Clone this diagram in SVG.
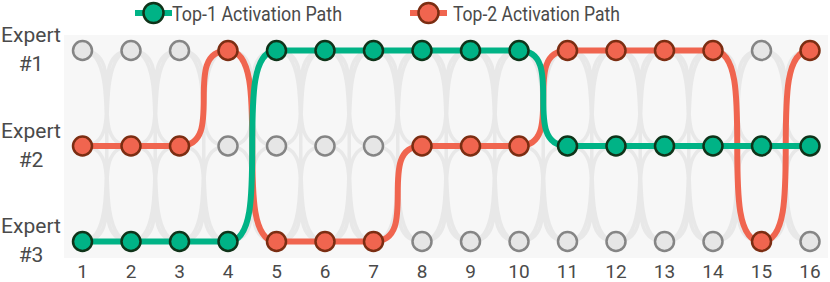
<svg xmlns="http://www.w3.org/2000/svg" width="830" height="282" viewBox="0 0 830 282">
<style>
.lbl{font-family:Roboto,"Liberation Sans",sans-serif;font-size:20px;fill:#4a4a4a}
.big{font-size:21px}
.leg{font-size:21px}
.ax{font-size:19px}
.mid{text-anchor:middle}
.grid{fill:none;stroke:#e8e8e8;stroke-width:3.5}
.p1{fill:none;stroke:#00b386;stroke-width:6}
.p2{fill:none;stroke:#f0654f;stroke-width:6}
.n0{fill:#e6e6e6;stroke:#858585;stroke-width:2.5}
.n1{fill:#00b386;stroke:#0f3319;stroke-width:2.5}
.n2{fill:#f0654f;stroke:#7b2d12;stroke-width:2.5}
</style>
<rect x="64" y="35" width="764" height="223" fill="#f7f7f7"/>
<g id="legend">
<line x1="135" y1="13" x2="172" y2="13" class="p1"/>
<circle cx="153.5" cy="13" r="10" class="n1" stroke-width="3"/>
<text x="172" y="21" class="lbl leg" textLength="170" lengthAdjust="spacingAndGlyphs">Top-1 Activation Path</text>
<line x1="410" y1="13" x2="447" y2="13" class="p2"/>
<circle cx="428.5" cy="13" r="10" class="n2" stroke-width="3"/>
<text x="453" y="21" class="lbl leg" textLength="167" lengthAdjust="spacingAndGlyphs">Top-2 Activation Path</text>
</g>
<g id="row-labels">
<text x="31" y="42" class="lbl big mid">Expert</text>
<text x="31" y="71" class="lbl big mid">#1</text>
<text x="31" y="137.5" class="lbl big mid">Expert</text>
<text x="31" y="166.5" class="lbl big mid">#2</text>
<text x="31" y="233" class="lbl big mid">Expert</text>
<text x="31" y="262" class="lbl big mid">#3</text>
</g>
<g id="axis-labels">
<text x="82.5" y="278" class="lbl ax mid">1</text>
<text x="131" y="278" class="lbl ax mid">2</text>
<text x="179.5" y="278" class="lbl ax mid">3</text>
<text x="228" y="278" class="lbl ax mid">4</text>
<text x="276.5" y="278" class="lbl ax mid">5</text>
<text x="325" y="278" class="lbl ax mid">6</text>
<text x="373.5" y="278" class="lbl ax mid">7</text>
<text x="422" y="278" class="lbl ax mid">8</text>
<text x="470.5" y="278" class="lbl ax mid">9</text>
<text x="519" y="278" class="lbl ax mid">10</text>
<text x="567.5" y="278" class="lbl ax mid">11</text>
<text x="616" y="278" class="lbl ax mid">12</text>
<text x="664.5" y="278" class="lbl ax mid">13</text>
<text x="713" y="278" class="lbl ax mid">14</text>
<text x="761.5" y="278" class="lbl ax mid">15</text>
<text x="810" y="278" class="lbl ax mid">16</text>
</g>
<g id="connectors">
<path class="grid" d="M82.5 50.5C131 50.5 82.5 146 131 146M82.5 146C131 146 82.5 50.5 131 50.5M82.5 146C131 146 82.5 241.5 131 241.5M82.5 241.5C131 241.5 82.5 146 131 146M82.5 50.5C131 50.5 82.5 241.5 131 241.5M82.5 241.5C131 241.5 82.5 50.5 131 50.5
M131 50.5C179.5 50.5 131 146 179.5 146M131 146C179.5 146 131 50.5 179.5 50.5M131 146C179.5 146 131 241.5 179.5 241.5M131 241.5C179.5 241.5 131 146 179.5 146M131 50.5C179.5 50.5 131 241.5 179.5 241.5M131 241.5C179.5 241.5 131 50.5 179.5 50.5
M179.5 50.5C228 50.5 179.5 146 228 146M179.5 146C228 146 179.5 50.5 228 50.5M179.5 146C228 146 179.5 241.5 228 241.5M179.5 241.5C228 241.5 179.5 146 228 146M179.5 50.5C228 50.5 179.5 241.5 228 241.5M179.5 241.5C228 241.5 179.5 50.5 228 50.5
M228 50.5C276.5 50.5 228 146 276.5 146M228 146C276.5 146 228 50.5 276.5 50.5M228 146C276.5 146 228 241.5 276.5 241.5M228 241.5C276.5 241.5 228 146 276.5 146M228 50.5C276.5 50.5 228 241.5 276.5 241.5M228 241.5C276.5 241.5 228 50.5 276.5 50.5
M276.5 50.5C325 50.5 276.5 146 325 146M276.5 146C325 146 276.5 50.5 325 50.5M276.5 146C325 146 276.5 241.5 325 241.5M276.5 241.5C325 241.5 276.5 146 325 146M276.5 50.5C325 50.5 276.5 241.5 325 241.5M276.5 241.5C325 241.5 276.5 50.5 325 50.5
M325 50.5C373.5 50.5 325 146 373.5 146M325 146C373.5 146 325 50.5 373.5 50.5M325 146C373.5 146 325 241.5 373.5 241.5M325 241.5C373.5 241.5 325 146 373.5 146M325 50.5C373.5 50.5 325 241.5 373.5 241.5M325 241.5C373.5 241.5 325 50.5 373.5 50.5
M373.5 50.5C422 50.5 373.5 146 422 146M373.5 146C422 146 373.5 50.5 422 50.5M373.5 146C422 146 373.5 241.5 422 241.5M373.5 241.5C422 241.5 373.5 146 422 146M373.5 50.5C422 50.5 373.5 241.5 422 241.5M373.5 241.5C422 241.5 373.5 50.5 422 50.5
M422 50.5C470.5 50.5 422 146 470.5 146M422 146C470.5 146 422 50.5 470.5 50.5M422 146C470.5 146 422 241.5 470.5 241.5M422 241.5C470.5 241.5 422 146 470.5 146M422 50.5C470.5 50.5 422 241.5 470.5 241.5M422 241.5C470.5 241.5 422 50.5 470.5 50.5
M470.5 50.5C519 50.5 470.5 146 519 146M470.5 146C519 146 470.5 50.5 519 50.5M470.5 146C519 146 470.5 241.5 519 241.5M470.5 241.5C519 241.5 470.5 146 519 146M470.5 50.5C519 50.5 470.5 241.5 519 241.5M470.5 241.5C519 241.5 470.5 50.5 519 50.5
M519 50.5C567.5 50.5 519 146 567.5 146M519 146C567.5 146 519 50.5 567.5 50.5M519 146C567.5 146 519 241.5 567.5 241.5M519 241.5C567.5 241.5 519 146 567.5 146M519 50.5C567.5 50.5 519 241.5 567.5 241.5M519 241.5C567.5 241.5 519 50.5 567.5 50.5
M567.5 50.5C616 50.5 567.5 146 616 146M567.5 146C616 146 567.5 50.5 616 50.5M567.5 146C616 146 567.5 241.5 616 241.5M567.5 241.5C616 241.5 567.5 146 616 146M567.5 50.5C616 50.5 567.5 241.5 616 241.5M567.5 241.5C616 241.5 567.5 50.5 616 50.5
M616 50.5C664.5 50.5 616 146 664.5 146M616 146C664.5 146 616 50.5 664.5 50.5M616 146C664.5 146 616 241.5 664.5 241.5M616 241.5C664.5 241.5 616 146 664.5 146M616 50.5C664.5 50.5 616 241.5 664.5 241.5M616 241.5C664.5 241.5 616 50.5 664.5 50.5
M664.5 50.5C713 50.5 664.5 146 713 146M664.5 146C713 146 664.5 50.5 713 50.5M664.5 146C713 146 664.5 241.5 713 241.5M664.5 241.5C713 241.5 664.5 146 713 146M664.5 50.5C713 50.5 664.5 241.5 713 241.5M664.5 241.5C713 241.5 664.5 50.5 713 50.5
M713 50.5C761.5 50.5 713 146 761.5 146M713 146C761.5 146 713 50.5 761.5 50.5M713 146C761.5 146 713 241.5 761.5 241.5M713 241.5C761.5 241.5 713 146 761.5 146M713 50.5C761.5 50.5 713 241.5 761.5 241.5M713 241.5C761.5 241.5 713 50.5 761.5 50.5
M761.5 50.5C810 50.5 761.5 146 810 146M761.5 146C810 146 761.5 50.5 810 50.5M761.5 146C810 146 761.5 241.5 810 241.5M761.5 241.5C810 241.5 761.5 146 810 146M761.5 50.5C810 50.5 761.5 241.5 810 241.5M761.5 241.5C810 241.5 761.5 50.5 810 50.5"/>
<path id="top2-path" class="p2" d="M82.5 146H179.5C228 146 179.5 50.5 228 50.5C276.5 50.5 228 241.5 276.5 241.5H373.5C422 241.5 373.5 146 422 146H519C567.5 146 519 50.5 567.5 50.5H713C761.5 50.5 713 241.5 761.5 241.5C810 241.5 761.5 50.5 810 50.5"/>
<path id="top1-path" class="p1" d="M82.5 241.5H228C276.5 241.5 228 50.5 276.5 50.5H519C567.5 50.5 519 146 567.5 146H810"/>
</g>
<g id="nodes-col1"><circle cx="82.5" cy="50.5" r="9.5" class="n0"/><circle cx="82.5" cy="146" r="9.5" class="n2"/><circle cx="82.5" cy="241.5" r="9.5" class="n1"/></g>
<g id="nodes-col2"><circle cx="131" cy="50.5" r="9.5" class="n0"/><circle cx="131" cy="146" r="9.5" class="n2"/><circle cx="131" cy="241.5" r="9.5" class="n1"/></g>
<g id="nodes-col3"><circle cx="179.5" cy="50.5" r="9.5" class="n0"/><circle cx="179.5" cy="146" r="9.5" class="n2"/><circle cx="179.5" cy="241.5" r="9.5" class="n1"/></g>
<g id="nodes-col4"><circle cx="228" cy="50.5" r="9.5" class="n2"/><circle cx="228" cy="146" r="9.5" class="n0"/><circle cx="228" cy="241.5" r="9.5" class="n1"/></g>
<g id="nodes-col5"><circle cx="276.5" cy="50.5" r="9.5" class="n1"/><circle cx="276.5" cy="146" r="9.5" class="n0"/><circle cx="276.5" cy="241.5" r="9.5" class="n2"/></g>
<g id="nodes-col6"><circle cx="325" cy="50.5" r="9.5" class="n1"/><circle cx="325" cy="146" r="9.5" class="n0"/><circle cx="325" cy="241.5" r="9.5" class="n2"/></g>
<g id="nodes-col7"><circle cx="373.5" cy="50.5" r="9.5" class="n1"/><circle cx="373.5" cy="146" r="9.5" class="n0"/><circle cx="373.5" cy="241.5" r="9.5" class="n2"/></g>
<g id="nodes-col8"><circle cx="422" cy="50.5" r="9.5" class="n1"/><circle cx="422" cy="146" r="9.5" class="n2"/><circle cx="422" cy="241.5" r="9.5" class="n0"/></g>
<g id="nodes-col9"><circle cx="470.5" cy="50.5" r="9.5" class="n1"/><circle cx="470.5" cy="146" r="9.5" class="n2"/><circle cx="470.5" cy="241.5" r="9.5" class="n0"/></g>
<g id="nodes-col10"><circle cx="519" cy="50.5" r="9.5" class="n1"/><circle cx="519" cy="146" r="9.5" class="n2"/><circle cx="519" cy="241.5" r="9.5" class="n0"/></g>
<g id="nodes-col11"><circle cx="567.5" cy="50.5" r="9.5" class="n2"/><circle cx="567.5" cy="146" r="9.5" class="n1"/><circle cx="567.5" cy="241.5" r="9.5" class="n0"/></g>
<g id="nodes-col12"><circle cx="616" cy="50.5" r="9.5" class="n2"/><circle cx="616" cy="146" r="9.5" class="n1"/><circle cx="616" cy="241.5" r="9.5" class="n0"/></g>
<g id="nodes-col13"><circle cx="664.5" cy="50.5" r="9.5" class="n2"/><circle cx="664.5" cy="146" r="9.5" class="n1"/><circle cx="664.5" cy="241.5" r="9.5" class="n0"/></g>
<g id="nodes-col14"><circle cx="713" cy="50.5" r="9.5" class="n2"/><circle cx="713" cy="146" r="9.5" class="n1"/><circle cx="713" cy="241.5" r="9.5" class="n0"/></g>
<g id="nodes-col15"><circle cx="761.5" cy="50.5" r="9.5" class="n0"/><circle cx="761.5" cy="146" r="9.5" class="n1"/><circle cx="761.5" cy="241.5" r="9.5" class="n2"/></g>
<g id="nodes-col16"><circle cx="810" cy="50.5" r="9.5" class="n2"/><circle cx="810" cy="146" r="9.5" class="n1"/><circle cx="810" cy="241.5" r="9.5" class="n0"/></g>
</svg>
